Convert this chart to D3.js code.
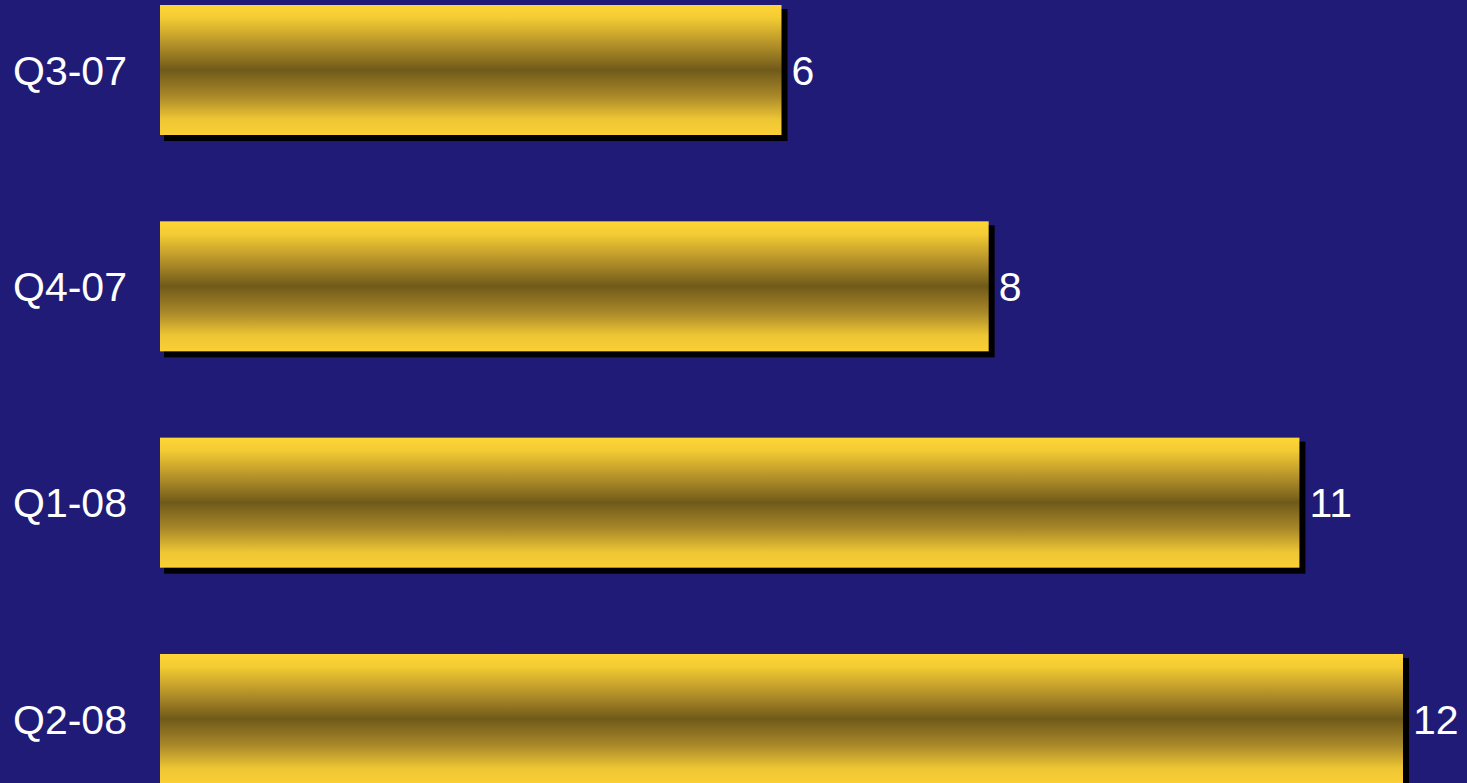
<!DOCTYPE html>
<html>
<head>
<meta charset="utf-8">
<script src="https://cdn.jsdelivr.net/npm/d3@7"></script>
<style>
  html, body { margin: 0; padding: 0; background: #1f1b77; overflow: hidden; }
  svg { display: block; }
</style>
</head>
<body>
<svg id="chart" width="1467" height="783"></svg>
<script>
// Quarterly counts
const categories = ["Q3-07", "Q4-07", "Q1-08", "Q2-08"];
const values = [6, 8, 11, 12];

const W = 1467, H = 783;
const svg = d3.select("#chart");

svg.append("rect").attr("width", W).attr("height", H).attr("fill", "#1f1b77");

// Gold vertical gradient: light at edges, dark band in the middle
const defs = svg.append("defs");
const grad = defs.append("linearGradient")
  .attr("id", "gold").attr("x1", 0).attr("y1", 0).attr("x2", 0).attr("y2", 1);
[
  [0, "#fed636"], [0.1, "#f3cb33"], [0.3, "#b59229"], [0.5, "#705a1a"],
  [0.7, "#a98829"], [0.88, "#eec634"], [1, "#fbcf34"]
].forEach(([o, c]) => grad.append("stop").attr("offset", o).attr("stop-color", c));

const x = d3.scaleLinear().domain([0, 12]).range([160, 1403]);
const y = d3.scaleBand().domain(categories).range([5, 784]).paddingInner(0.399).paddingOuter(0);

const rows = svg.selectAll("g.row")
  .data(categories.map((c, i) => ({ c, v: values[i] })))
  .join("g").attr("class", "row");

// drop shadow
rows.append("rect")
  .attr("x", x(0) + 4)
  .attr("y", d => y(d.c) + 4)
  .attr("width", d => x(d.v) - x(0) + 2)
  .attr("height", y.bandwidth() + 2)
  .attr("fill", "#000");

rows.append("rect")
  .attr("x", x(0))
  .attr("y", d => y(d.c))
  .attr("width", d => x(d.v) - x(0))
  .attr("height", y.bandwidth())
  .attr("fill", "url(#gold)");

const fs = 41;
const cap = fs * 0.716;

rows.append("text")
  .attr("x", 13)
  .attr("y", d => y(d.c) + y.bandwidth() / 2 + cap / 2)
  .attr("font-family", "Liberation Sans, Arial, sans-serif")
  .attr("font-size", fs)
  .attr("fill", "#ffffff")
  .text(d => d.c);

rows.append("text")
  .attr("x", d => x(d.v) + 10)
  .attr("y", d => y(d.c) + y.bandwidth() / 2 + cap / 2)
  .attr("font-family", "Liberation Sans, Arial, sans-serif")
  .attr("font-size", fs)
  .attr("fill", "#ffffff")
  .text(d => d.v);
</script>
</body>
</html>
